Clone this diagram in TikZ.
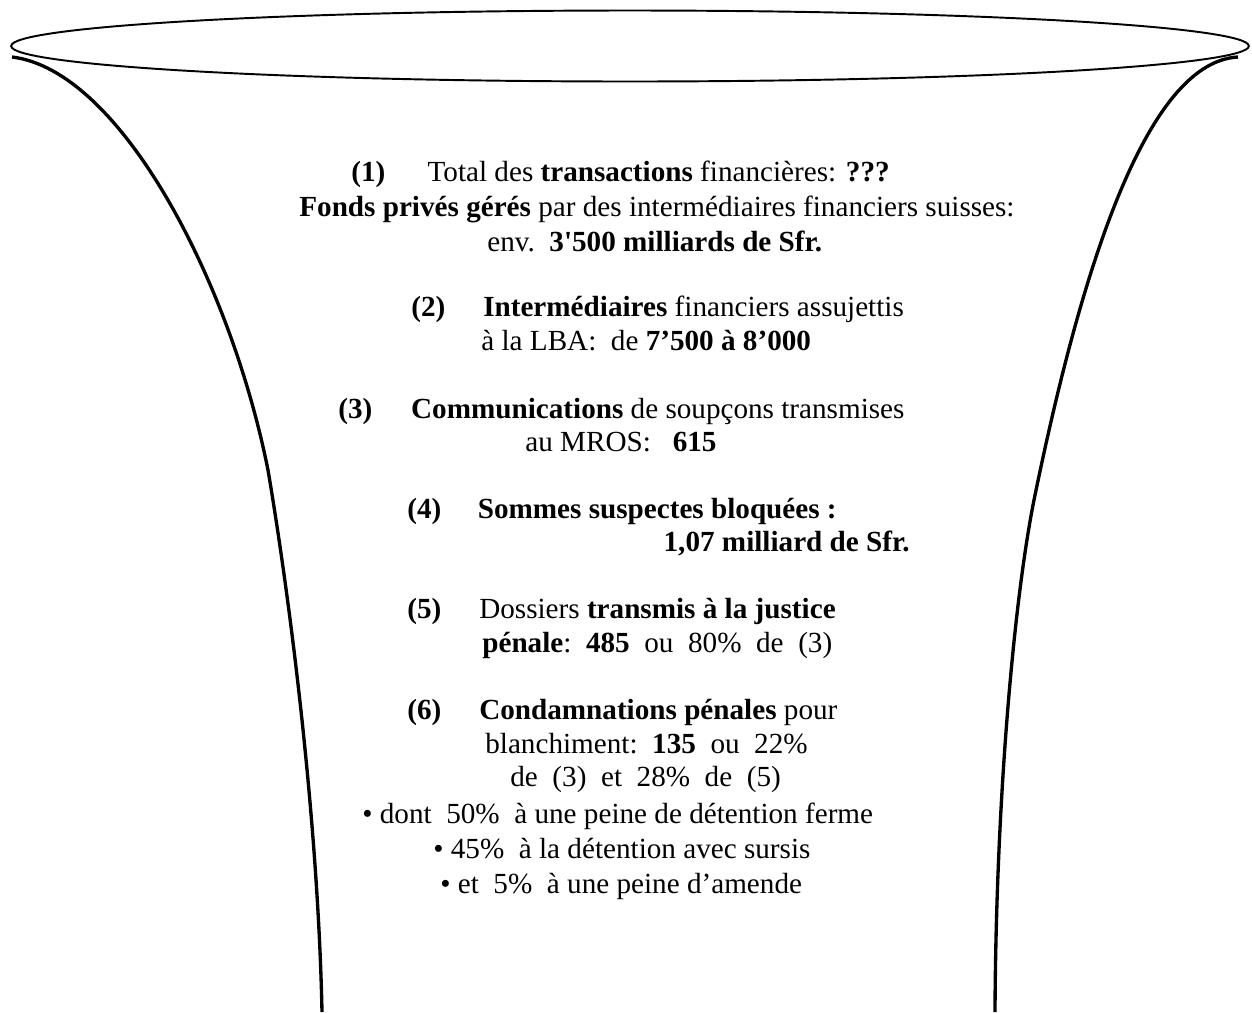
\documentclass[tikz,border=0pt]{standalone}
\usepackage{fontspec}
\setmainfont{Liberation Serif}
\tikzset{
    txt/.style={anchor=base west, inner sep=0pt},
    side/.style={line width=1.9pt}
}
\begin{document}
\begin{tikzpicture}[x=0.02cm, y=-0.02cm, font=\fontsize{16.6}{20}\selectfont]
    \useasboundingbox (0,0) rectangle (1252,1012);
    % rim
    \draw[line width=1.1pt] (630,46) ellipse [x radius=12.38cm, y radius=0.71cm];
    % sides of the funnel
    \coordinate (ltop) at (12,57);
    \coordinate (lmid) at (268,470);
    \coordinate (lbot) at (322,1012);
    \coordinate (rtop) at (1238,57);
    \coordinate (rmid) at (1034,500);
    \coordinate (rbot) at (995,1012);
    \draw[side] (ltop) .. controls (120,70) and (230,280) .. (lmid)
        .. controls (290,600) and (318,820) .. (lbot);
    \draw[side] (rtop) .. controls (1140,62) and (1075,300) .. (rmid)
        .. controls (1014,600) and (996,800) .. (rbot);
    % (1)
    \node[txt] (l1) at (351,181) {\textbf{(1)}\hspace{1.45em}Total des \textbf{transactions} financières: \textbf{???}};
    \node[txt] (l2) at (299,216) {\textbf{Fonds privés gérés} par des intermédiaires financiers suisses:};
    \node[txt] (l3) at (487,251) {env.\ \ \textbf{3\textquotesingle500 milliards de Sfr.}};
    % (2)
    \node[txt] (l4) at (411,316) {\textbf{(2)}\hspace{1.3em}\textbf{Intermédiaires} financiers assujettis};
    \node[txt] (l5) at (481,350) {à la LBA:\ \ de \textbf{7’500 à 8’000}};
    % (3)
    \node[txt] (l6) at (338,418) {\textbf{(3)}\hspace{1.33em}\textbf{Communications} de soupçons transmises};
    \node[txt] (l7) at (525,451) {au MROS:\ \ \ \textbf{615}};
    % (4)
    \node[txt] (l8) at (407,518) {\textbf{(4)}\hspace{1.25em}\textbf{Sommes suspectes bloquées :}};
    \node[txt, anchor=base east] (l9) at (910,551) {\textbf{1,07 milliard de Sfr.}};
    % (5)
    \node[txt] (l10) at (407,618) {\textbf{(5)}\hspace{1.3em}Dossiers \textbf{transmis à la justice}};
    \node[txt] (l11) at (482,652) {\textbf{pénale}:\ \ \textbf{485}\ \ ou\ \ 80\%\ \ de\ \ (3)};
    % (6)
    \node[txt] (l12) at (407,719) {\textbf{(6)}\hspace{1.3em}\textbf{Condamnations pénales} pour};
    \node[txt] (l13) at (485,753) {blanchiment:\ \ \textbf{135}\ \ ou\ \ 22\%};
    \node[txt] (l14) at (510,786) {de\ \ (3)\ \ et\ \ 28\%\ \ de\ \ (5)};
    \node[txt] (l15) at (362,823) {\textbullet\ dont\ \ 50\%\ \ à une peine de détention ferme};
    \node[txt] (l16) at (433,858) {\textbullet\ 45\%\ \ à la détention avec sursis};
    \node[txt] (l17) at (440,893) {\textbullet\ et\ \ 5\%\ \ à une peine d’amende};
\end{tikzpicture}
\end{document}
